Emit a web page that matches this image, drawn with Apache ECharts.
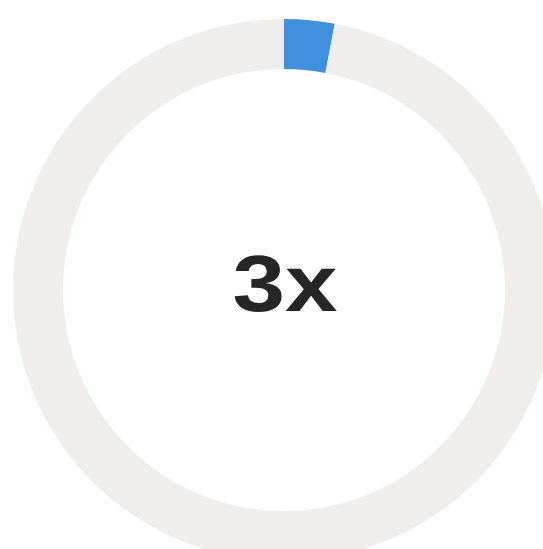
<!DOCTYPE html>
<html>
<head>
<meta charset="utf-8">
<script src="https://cdn.jsdelivr.net/npm/echarts@6/dist/echarts.min.js"></script>
<style>
html,body{margin:0;padding:0;background:#fff;}
#main{width:543px;height:549px;}
</style>
</head>
<body>
<div id="main"></div>
<script>
var names = ['value', 'rest'];
var values = [3, 97];
var colors = ['#418fde', '#f0eded'];
var centerText = '3x';

var myChart = echarts.init(document.getElementById('main'));
var data = [];
for (var i = 0; i < values.length; i++) {
	data.push({ name: names[i], value: values[i], itemStyle: { color: colors[i] } });
}
myChart.setOption({
	animation: false,
	graphic: [{
		type: 'text',
		x: 285,
		y: 289,
		scaleX: 1.18,
		silent: true,
		style: {
			text: centerText,
			x: 0,
			y: 0,
			align: 'center',
			verticalAlign: 'middle',
			font: 'bold 80px "Liberation Sans"',
			fill: '#262626'
		}
	}],
	series: [{
		type: 'pie',
		center: [284, 290],
		radius: [221, 271],
		startAngle: 90,
		clockwise: true,
		silent: true,
		label: { show: false },
		labelLine: { show: false },
		data: data
	}]
});
</script>
</body>
</html>
